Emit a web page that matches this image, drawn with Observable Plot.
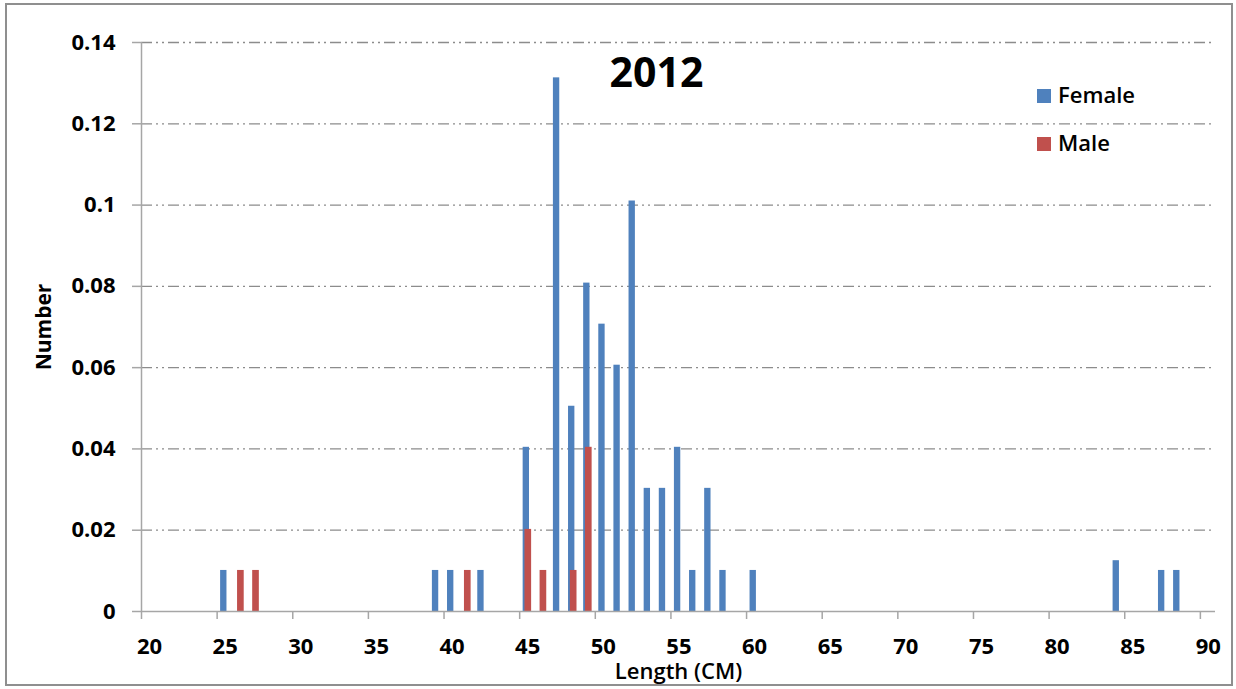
<!DOCTYPE html>
<html><head><meta charset="utf-8">
<script src="https://cdn.jsdelivr.net/npm/d3@7"></script>
<script src="https://cdn.jsdelivr.net/npm/@observablehq/plot@0.6"></script>
<style>
body{margin:0;background:#fff;}
#wrap{position:relative;width:1236px;height:689px;font-family:"Open Sans",sans-serif;overflow:hidden;}
#frame{position:absolute;left:5px;top:3px;width:1228px;height:683px;border:2px solid #8f8f8f;box-sizing:border-box;pointer-events:none;}
.sw{position:absolute;width:14px;height:14px;}
.lt{position:absolute;font-size:22px;line-height:22px;font-weight:600;color:#000;white-space:nowrap;}
#wrap svg{position:absolute;left:0;top:0;}
</style></head><body>
<div id="wrap"><div id="frame"></div></div>
<script>
const title = "2012";
const xLabel = "Length (CM)";
const yLabel = "Number";
const seriesNames = ["Female", "Male"];
const seriesColors = ["#4F81BD", "#C0504D"];
const femaleLengths = [25, 39, 40, 42, 45, 47, 48, 49, 50, 51, 52, 53, 54, 55, 56, 57, 58, 60, 84, 87, 88];
const femaleValues  = [0.0101, 0.0101, 0.0101, 0.0101, 0.0404, 0.1313, 0.0505, 0.0808, 0.0707, 0.0606, 0.101, 0.0303, 0.0303, 0.0404, 0.0101, 0.0303, 0.0101, 0.0101, 0.0125, 0.0101, 0.0101];
const maleLengths = [26, 27, 41, 45, 46, 48, 49];
const maleValues  = [0.0101, 0.0101, 0.0101, 0.0202, 0.0101, 0.0101, 0.0404];
const xTicks = [20, 25, 30, 35, 40, 45, 50, 55, 60, 65, 70, 75, 80, 85, 90];
const yTicks = [0, 0.02, 0.04, 0.06, 0.08, 0.1, 0.12, 0.14];

const female = femaleLengths.map((len, i) => ({len, v: femaleValues[i]}));
const male = maleLengths.map((len, i) => ({len, v: maleValues[i]}));

const axisGray = "#a6a6a6";
const font = "'Open Sans', sans-serif";

const chart = Plot.plot({
  width: 1236, height: 689,
  marginLeft: 141, marginRight: 21, marginTop: 42, marginBottom: 78,
  style: {fontFamily: font, background: "transparent", overflow: "visible", color: "#000"},
  x: {domain: [20, 91]},
  y: {domain: [0, 0.14]},
  marks: [
    Plot.gridY(yTicks.filter(d => d > 0), {stroke: "#8c8c8c", strokeOpacity: 1, strokeWidth: 1.3, strokeDasharray: "11,4,2,4,2,4"}),
    Plot.rect(female, {x1: d => d.len + 0.23, x2: d => d.len + 0.65, y1: 0, y2: "v", fill: seriesColors[0]}),
    Plot.rect(male, {x1: d => d.len + 0.35, x2: d => d.len + 0.79, y1: 0, y2: "v", fill: seriesColors[1]}),
    Plot.ruleY([0], {stroke: axisGray, strokeWidth: 1.5}),
    Plot.ruleX([20], {stroke: axisGray, strokeWidth: 1.5}),
    Plot.axisY({ticks: yTicks, tickSize: 9, tickPadding: 17, stroke: axisGray, strokeWidth: 1.5, fill: "#000",
      tickFormat: d => String(+d.toFixed(2)), label: null, fontSize: 22, fontWeight: "bold", fontFamily: font}),
    Plot.axisX({ticks: xTicks, tickSize: 8, stroke: axisGray, strokeWidth: 1.5, tickFormat: () => "", label: null}),
    Plot.axisX({ticks: xTicks, tickSize: 0, tickPadding: 27, dx: 8, fill: "#000", label: null,
      fontSize: 22, fontWeight: "bold", fontFamily: font}),
    Plot.text([yLabel], {frameAnchor: "left", textAnchor: "middle", lineAnchor: "middle", rotate: -90, dx: -97,
      fontSize: 21, fontWeight: "bold", fontFamily: font, fill: "#000"}),
    Plot.text([xLabel], {frameAnchor: "bottom", textAnchor: "middle", lineAnchor: "middle", dy: 60,
      fontSize: 22, fontWeight: 600, fontFamily: font, fill: "#000"}),
    Plot.text([title], {frameAnchor: "top", textAnchor: "middle", lineAnchor: "middle", dx: -22, dy: 31,
      fontSize: 41, fontWeight: "bold", fontFamily: font, fill: "#000"})
  ]
});
const wrap = document.getElementById("wrap");
wrap.insertBefore(chart, wrap.firstChild);

seriesNames.forEach((name, i) => {
  const sw = document.createElement("div");
  sw.className = "sw";
  sw.style.left = "1037px";
  sw.style.top = (89 + 48 * i) + "px";
  sw.style.background = seriesColors[i];
  wrap.appendChild(sw);
  const t = document.createElement("div");
  t.className = "lt";
  t.style.left = "1058px";
  t.style.top = (82.5 + 48 * i) + "px";
  t.textContent = name;
  wrap.appendChild(t);
});
</script>
</body></html>
